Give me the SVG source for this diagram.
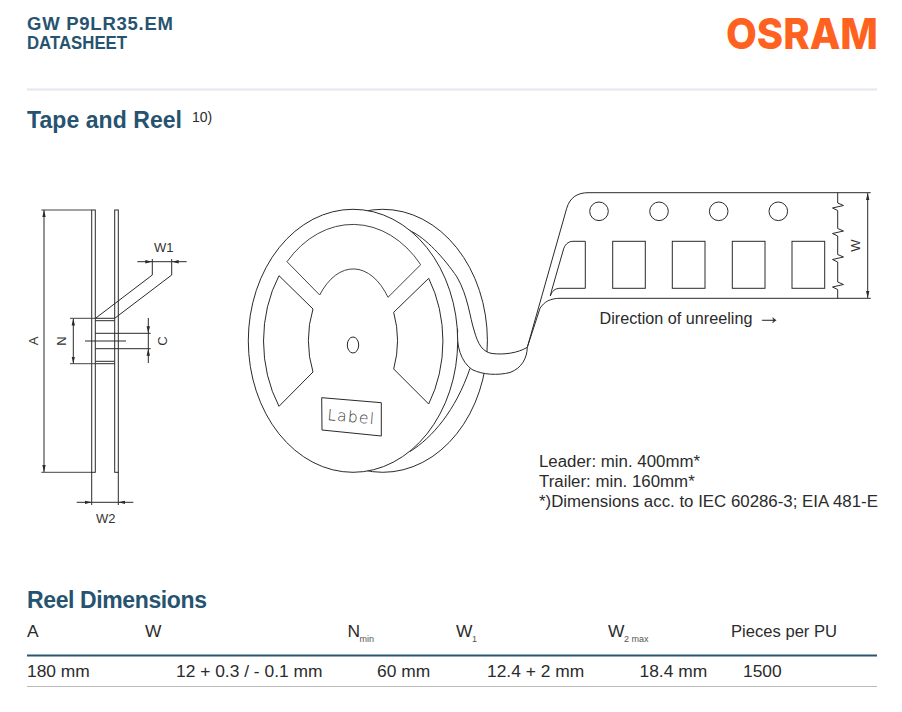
<svg xmlns="http://www.w3.org/2000/svg" width="902" height="712" viewBox="0 0 902 712">
<style>
text{font-family:"Liberation Sans",Arial,sans-serif;fill:#2b2b2b}
.h{fill:#26536f;font-weight:700}
.b{font-size:16.6px}
.v{font-size:17.4px}
.n{font-size:16.85px}
.s{font-size:9px;fill:#555}
.d{font-size:13px;fill:#333}
.l{fill:none;stroke:#2a2a2a;stroke-width:1}
.f{fill:#fff;stroke:#2a2a2a;stroke-width:1}
.g{fill:none;stroke:#444;stroke-width:1}
</style>
<defs>
<marker id="ah" markerWidth="7" markerHeight="5" refX="7" refY="2.5" orient="auto-start-reverse" markerUnits="userSpaceOnUse"><path d="M0,0.8L7,2.5L0,4.2Z" fill="#2a2a2a"/></marker>
</defs>
<rect width="902" height="712" fill="#fff"/>
<g id="header">
<text class="h" x="27" y="30" font-size="18.5" textLength="146" lengthAdjust="spacing">GW P9LR35.EM</text>
<text class="h" x="27" y="49" font-size="17.5" textLength="100" lengthAdjust="spacingAndGlyphs">DATASHEET</text>
<text x="726" y="49" font-size="43" font-weight="800" textLength="152" lengthAdjust="spacingAndGlyphs" style="font-family:Inter,'Liberation Sans',sans-serif;fill:#ff6220">OSRAM</text>
<line x1="27" y1="89.5" x2="877" y2="89.5" stroke="#e3e8ee" stroke-width="2"/>
<text class="h" x="27" y="128" font-size="23" textLength="155" lengthAdjust="spacing">Tape and Reel</text>
<text x="192" y="122" font-size="14" fill="#333">10)</text>
</g>
<g id="side-view">
<rect class="l" x="91.7" y="210" width="3.6" height="262.3"/>
<rect class="l" x="114.7" y="210" width="3.6" height="262.3"/>
<path class="l" d="M152.3,275L95.5,318.3M171.7,275L114.7,318.3M95.3,318.3H114.7M95.3,320.7H114.7M95.3,361.3H114.7M95.3,363.7H114.7M95.3,333.3H150.7M95.3,348.7H150.7M85,341H126"/>
<path class="g" d="M41.3,210H91.7M41.3,472.3H91.7M70,318.3H95M70,363.7H95"/>
<path class="l" d="M152.3,259V275M171.7,259V275M91.7,472V505M118.3,472V505"/>
<line class="l" x1="44" y1="210" x2="44" y2="472" marker-start="url(#ah)" marker-end="url(#ah)"/>
<line class="l" x1="73.3" y1="318.5" x2="73.3" y2="363.5" marker-start="url(#ah)" marker-end="url(#ah)"/>
<line class="l" x1="137.3" y1="261.7" x2="152.3" y2="261.7" marker-end="url(#ah)"/>
<line class="l" x1="152.3" y1="261.7" x2="171.7" y2="261.7"/>
<line class="l" x1="186.7" y1="261.7" x2="171.7" y2="261.7" marker-end="url(#ah)"/>
<line class="l" x1="148.3" y1="318" x2="148.3" y2="333.3" marker-end="url(#ah)"/>
<line class="l" x1="148.3" y1="333.3" x2="148.3" y2="348.7"/>
<line class="l" x1="148.3" y1="363" x2="148.3" y2="348.7" marker-end="url(#ah)"/>
<line class="l" x1="76.7" y1="502.3" x2="91.7" y2="502.3" marker-end="url(#ah)"/>
<line class="l" x1="91.7" y1="502.3" x2="118.3" y2="502.3"/>
<line class="l" x1="133.3" y1="502.3" x2="118.3" y2="502.3" marker-end="url(#ah)"/>
<text class="d" x="154" y="251.5">W1</text>
<text class="d" x="96" y="522.5">W2</text>
<text class="d" transform="translate(37.5,341) rotate(-90)" text-anchor="middle">A</text>
<text class="d" transform="translate(66,341) rotate(-90)" text-anchor="middle">N</text>
<text class="d" transform="translate(167,341) rotate(-90)" text-anchor="middle">C</text>
</g>
<g id="reel">
<ellipse class="f" cx="382.7" cy="340.8" rx="104.7" ry="131.5"/>
<path class="l" d="M410,451.5C432,438 456,410 470,368.3"/>
<path class="f" d="M410,230.7C426,238 444,258 457,277C468,296 470,318 474,330C478,345 483,352 492,353.5C504,355 518,353 527.3,347.3C527,358 522,368 510,372.5C498,375.5 483,375 472,369.5C461,362 456,345 457.7,330Z"/>
<ellipse class="f" cx="353" cy="340.8" rx="104.7" ry="131.5"/>
<path class="g" d="M287,261.7A89.7,116.3 0 0 1 420.7,264.7L388,297.3A45,78 0 0 0 319.7,295Z"/>
<path class="l" d="M279,275.7L313,309A45,71.3 0 0 0 313,372L279,406.3A89.7,116.3 0 0 1 279,275.7Z"/>
<path class="l" d="M428.7,278.3L393.7,312.3A45,71.3 0 0 1 393.7,369L428.7,404A89.7,116.3 0 0 0 428.7,278.3Z"/>
<ellipse class="l" cx="353" cy="345" rx="5.7" ry="8"/>
<path class="l" d="M321.7,397.7L381.3,402.7V436L322,430Z"/>
<text x="327" y="420" font-size="15.5" letter-spacing="1.2" transform="rotate(5 327 420)" style="font-family:'DejaVu Sans',sans-serif;font-weight:300;fill:#333">Label</text>
</g>
<g id="tape">
<path class="l" d="M870.7,192.7H588C578,192.7 570,197 566.7,208.3L527.3,347.3"/>
<path class="l" d="M870.7,298.3H560C550,298.3 544,302 540,308.3L527.3,347.3"/>
<circle class="l" cx="599" cy="211.3" r="9.3"/>
<circle class="l" cx="659" cy="211.3" r="9.3"/>
<circle class="l" cx="718.7" cy="211.3" r="9.3"/>
<circle class="l" cx="778.3" cy="211.3" r="9.3"/>
<path class="l" d="M585.3,241.3H573C568,241.3 564.5,245 563.3,250L551.5,291L550.3,296C552,291 555,288.3 560,288.3H585.3Z"/>
<rect class="l" x="612.7" y="241.3" width="32.6" height="47"/>
<rect class="l" x="672.3" y="241.3" width="32.7" height="47"/>
<rect class="l" x="732.3" y="241.3" width="32.7" height="47"/>
<rect class="l" x="792" y="241.3" width="32.7" height="47"/>
<path class="l" d="M837.7,192.7V203L843.5,205.5L832.5,208L837.7,210.5V228.5L843.5,231L832.5,233.5L837.7,236V254.5L843.5,257L832.5,259.5L837.7,262V282L843.5,284.5L832.5,287L837.7,289.5V298.3"/>
<line class="l" x1="867.7" y1="193" x2="867.7" y2="298" marker-start="url(#ah)" marker-end="url(#ah)"/>
<text class="d" transform="translate(860,245.5) rotate(-90)" text-anchor="middle">W</text>
<text x="599.5" y="324" font-size="16.2">Direction of unreeling <tspan font-size="24" dy="0">→</tspan></text>
</g>
<g id="notes">
<text class="n" x="539" y="466.5">Leader: min. 400mm*</text>
<text class="n" x="539" y="486.5">Trailer:  min. 160mm*</text>
<text class="n" x="539" y="507">*)Dimensions acc. to IEC 60286-3; EIA 481-E</text>
</g>
<g id="table">
<text class="h" x="27" y="608" font-size="23" textLength="180" lengthAdjust="spacing">Reel Dimensions</text>
<text class="v" x="27" y="636.5">A</text>
<text class="v" x="145" y="636.5">W</text>
<text class="v" x="347.5" y="636.5">N</text><text class="s" x="359.5" y="642">min</text>
<text class="v" x="456" y="636.5">W</text><text class="s" x="472" y="642">1</text>
<text class="v" x="608" y="636.5">W</text><text class="s" x="624" y="642" font-size="10.5">2 max</text>
<text class="b" x="731" y="636.5">Pieces per PU</text>
<line x1="27" y1="655.5" x2="877" y2="655.5" stroke="#2a566f" stroke-width="2"/>
<text class="v" x="27" y="676.5">180 mm</text>
<text class="v" x="176" y="676.5">12 + 0.3 / - 0.1 mm</text>
<text class="v" x="377" y="676.5">60 mm</text>
<text class="v" x="487" y="676.5">12.4 + 2 mm</text>
<text class="v" x="639.5" y="676.5">18.4 mm</text>
<text class="v" x="743" y="676.5">1500</text>
<line x1="27" y1="686.5" x2="877" y2="686.5" stroke="#bbb" stroke-width="1"/>
</g>
</svg>
